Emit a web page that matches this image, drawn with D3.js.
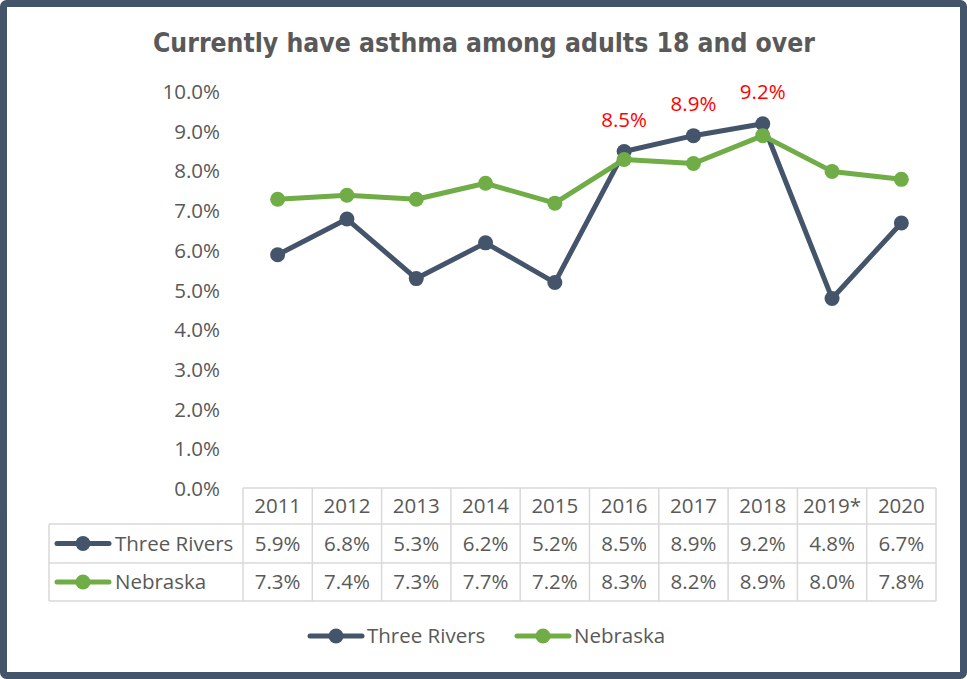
<!DOCTYPE html>
<html>
<head>
<meta charset="utf-8">
<script src="https://cdn.jsdelivr.net/npm/d3@7"></script>
<style>
  html, body { margin: 0; padding: 0; background: #fff; }
  svg { display: block; }
  text { font-family: "Open Sans", "Noto Sans", sans-serif; fill: #595959; }
</style>
</head>
<body>
<svg id="chart" width="967" height="679"></svg>
<script>
// Chart data
const years = ["2011", "2012", "2013", "2014", "2015", "2016", "2017", "2018", "2019*", "2020"];
const threeRivers = [5.9, 6.8, 5.3, 6.2, 5.2, 8.5, 8.9, 9.2, 4.8, 6.7];
const nebraska = [7.3, 7.4, 7.3, 7.7, 7.2, 8.3, 8.2, 8.9, 8.0, 7.8];
const seriesNames = ["Three Rivers", "Nebraska"];
const labelledYears = ["2016", "2017", "2018"];
const yTicks = [0, 1, 2, 3, 4, 5, 6, 7, 8, 9, 10];
const titleText = "Currently have asthma among adults 18 and over";

const colors = { "Three Rivers": "#44546A", "Nebraska": "#70AD47" };
const seriesData = [
  { name: seriesNames[0], values: threeRivers },
  { name: seriesNames[1], values: nebraska }
];

const svg = d3.select("#chart");
const W = 967, H = 679;
const fontSize = 20.5;

// Outer frame
svg.append("rect")
  .attr("x", 3.5).attr("y", 3.5)
  .attr("width", W - 7).attr("height", H - 7)
  .attr("rx", 3)
  .attr("fill", "#fff")
  .attr("stroke", "#44546A")
  .attr("stroke-width", 7);

// Title
svg.append("text")
  .attr("x", 484).attr("y", 52)
  .attr("text-anchor", "middle")
  .attr("textLength", 662)
  .attr("lengthAdjust", "spacingAndGlyphs")
  .style("font-family", "'DejaVu Sans Condensed', 'DejaVu Sans', sans-serif")
  .style("font-weight", "bold")
  .style("font-size", "26px")
  .style("fill", "#595959")
  .text(titleText);

// Scales
const x = d3.scaleBand().domain(years).range([243, 936]);
const y = d3.scaleLinear().domain([0, 10]).range([489, 92]);
const cx = d => x(d) + x.bandwidth() / 2;

// Y axis (labels only)
const yAxis = svg.append("g")
  .attr("transform", "translate(220,0)")
  .call(d3.axisLeft(y).tickValues(yTicks).tickSize(0).tickPadding(0)
    .tickFormat(d => d.toFixed(1) + "%"));
yAxis.select(".domain").remove();
yAxis.selectAll("text")
  .style("font-family", "'Open Sans', sans-serif")
  .style("font-size", fontSize + "px")
  .style("fill", "#595959");

// Lines and markers (Nebraska drawn last so it sits on top)
const line = d3.line().x((d, i) => cx(years[i])).y(d => y(d));
const order = [seriesData[0], seriesData[1]];
order.forEach(s => {
  const g = svg.append("g");
  g.append("path")
    .datum(s.values)
    .attr("d", line)
    .attr("fill", "none")
    .attr("stroke", colors[s.name])
    .attr("stroke-width", 5)
    .attr("stroke-linejoin", "round")
    .attr("stroke-linecap", "round");
  g.selectAll("circle")
    .data(s.values)
    .join("circle")
    .attr("cx", (d, i) => cx(years[i]))
    .attr("cy", d => y(d))
    .attr("r", 7.5)
    .attr("fill", colors[s.name]);
});

// Red value labels above selected Three Rivers points
svg.append("g").selectAll("text")
  .data(years.map((yr, i) => ({ yr, v: threeRivers[i] })).filter(d => labelledYears.includes(d.yr)))
  .join("text")
  .attr("x", d => cx(d.yr))
  .attr("y", d => y(d.v) - 25)
  .attr("text-anchor", "middle")
  .style("font-size", fontSize + "px")
  .style("fill", "#FF0000")
  .text(d => d.v.toFixed(1) + "%");

// Data table
const tableLeft = 49, colStart = 243, tableRight = 936;
const rowTops = [488, 524, 563, 601];
const grid = svg.append("g")
  .attr("stroke", "#D9D9D9")
  .attr("stroke-width", 1.5)
  .attr("fill", "none");
// horizontal lines
grid.append("line").attr("x1", colStart).attr("x2", tableRight).attr("y1", rowTops[0]).attr("y2", rowTops[0]);
[1, 2, 3].forEach(r => {
  grid.append("line").attr("x1", tableLeft).attr("x2", tableRight).attr("y1", rowTops[r]).attr("y2", rowTops[r]);
});
// vertical lines
grid.append("line").attr("x1", tableLeft).attr("x2", tableLeft).attr("y1", rowTops[1]).attr("y2", rowTops[3]);
years.forEach(yr => {
  grid.append("line").attr("x1", x(yr)).attr("x2", x(yr)).attr("y1", rowTops[0]).attr("y2", rowTops[3]);
});
grid.append("line").attr("x1", tableRight).attr("x2", tableRight).attr("y1", rowTops[0]).attr("y2", rowTops[3]);

const cellText = (xPos, yTop, yBot, str, anchor) => svg.append("text")
  .attr("x", xPos)
  .attr("y", (yTop + yBot) / 2)
  .attr("dy", "0.36em")
  .attr("text-anchor", anchor)
  .style("font-size", fontSize + "px")
  .text(str);

// header row
years.forEach(yr => cellText(cx(yr), rowTops[0], rowTops[1], yr, "middle"));
// series rows
seriesData.forEach((s, r) => {
  const yTop = rowTops[r + 1], yBot = rowTops[r + 2];
  const ym = (yTop + yBot) / 2;
  svg.append("line")
    .attr("x1", 57).attr("x2", 109).attr("y1", ym).attr("y2", ym)
    .attr("stroke", colors[s.name]).attr("stroke-width", 5).attr("stroke-linecap", "round");
  svg.append("circle").attr("cx", 83).attr("cy", ym).attr("r", 7.5).attr("fill", colors[s.name]);
  cellText(115, yTop, yBot, s.name, "start");
  s.values.forEach((v, i) => cellText(cx(years[i]), yTop, yBot, v.toFixed(1) + "%", "middle"));
});

// Legend
const legendItems = [
  { name: seriesNames[0], x0: 310 },
  { name: seriesNames[1], x0: 517 }
];
const ly = 636;
legendItems.forEach(it => {
  svg.append("line")
    .attr("x1", it.x0).attr("x2", it.x0 + 52).attr("y1", ly).attr("y2", ly)
    .attr("stroke", colors[it.name]).attr("stroke-width", 5).attr("stroke-linecap", "round");
  svg.append("circle").attr("cx", it.x0 + 26).attr("cy", ly).attr("r", 7.5).attr("fill", colors[it.name]);
  svg.append("text")
    .attr("x", it.x0 + 57).attr("y", ly).attr("dy", "0.36em")
    .style("font-size", fontSize + "px")
    .text(it.name);
});
</script>
</body>
</html>
